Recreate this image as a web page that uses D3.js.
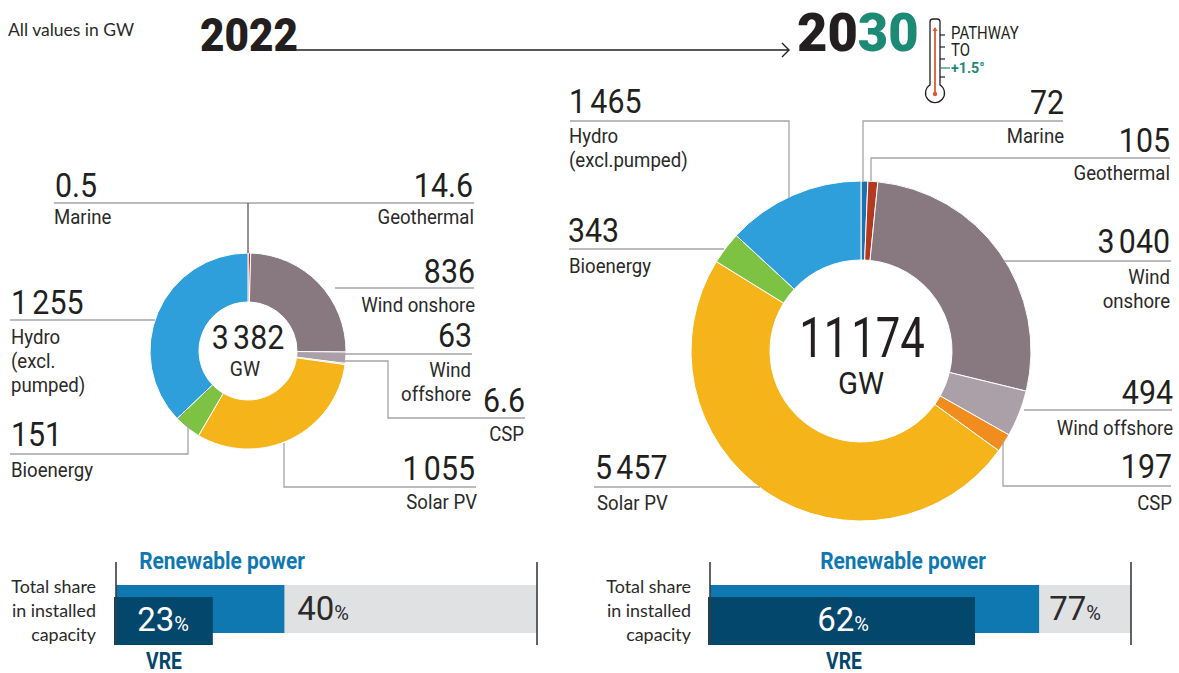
<!DOCTYPE html>
<html><head><meta charset="utf-8">
<script src="https://cdn.jsdelivr.net/npm/d3@7"></script>
<style>
html,body{margin:0;padding:0;background:#fff}
svg{display:block}
text{font-family:"Roboto",sans-serif;fill:#2b2a29}
</style></head><body>
<svg id="c" width="1179" height="673"></svg>
<script>
const categories=["Marine","Geothermal","Wind onshore","Wind offshore","CSP","Solar PV","Bioenergy","Hydro"];
const colours=["#1c6fb0","#b5391f","#87797f","#aca0a8","#f18c1f","#f4b41a","#7dc242","#2f9fdb"];
const values2022=[0.5,14.6,836,63,6.6,1055,151,1255];
const values2030=[72,105,3040,494,197,5457,343,1465];
const valueLabels2022=["0.5","14.6","836","63","6.6","1 055","151","1 255"];
const valueLabels2030=["72","105","3 040","494","197","5 457","343","1 465"];
const totals=["3 382","11 174"];
const renewableShares=[40,77];
const vreShares=[23,62];

const svg=d3.select("#c");
const LINE="#a3a5a7";
const defs=svg.append("defs");

function T(x,y,t,o={}){
  const s=o.sx||1;
  const e=svg.append("text").attr("transform",`translate(${x},${y}) scale(${s},1)`)
    .attr("text-anchor",o.a||"start").attr("font-size",o.size||20).attr("font-weight",o.w||400)
    .style("font-family",o.f||"Roboto").style("fill",o.c||"#2b2a29");
  if(o.ws!=null)e.style("word-spacing",o.ws+"px");
  if(t!=null)e.text(t);
  return e;
}
function donut(vals,cx,cy,R,r){
  const pie=d3.pie().sort(null).padAngle(0)(vals);
  const arc=d3.arc().innerRadius(r).outerRadius(R);
  const g=svg.append("g").attr("transform",`translate(${cx},${cy})`);
  g.selectAll("path").data(pie).join("path").attr("d",arc)
    .attr("fill",(d,i)=>colours[i]).attr("stroke","#fff").attr("stroke-width",(d,i)=>vals[i]<5?0:1);
  return pie;
}
donut(values2022,248,351,98,49);
donut(values2030,861,351,170,91);

function leader(points,c){
  svg.append("path").attr("d",d3.line()(points)).attr("fill","none").attr("stroke",c||LINE).attr("stroke-width",1.3);
}
const num=(x,y,t,a)=>T(x,y,t,{a,size:33,sx:.92,ws:-3.5,c:"#231f20"});
function lab(x,y,lines,a){
  lines.forEach((l,i)=>T(x,y+i*24,l,{a,size:20,sx:.93}));
}

/* 2022 leaders */
leader([[54,203],[474,203]]);
leader([[248,203],[248,253]],"#5a5a5c");
leader([[10,320],[155,320]]);
leader([[10,454],[188,454],[188,423]]);
leader([[284,443],[284,487],[476,487]]);
leader([[345,354],[472,354]]);
leader([[345,361],[388,361],[388,418],[525,418]]);
leader([[335,288],[474,288]]);
num(55,197,valueLabels2022[0]);lab(54,224,["Marine"]);
num(473,197,valueLabels2022[1],"end");lab(474,224,["Geothermal"],"end");
num(475,283,valueLabels2022[2],"end");lab(475,312,["Wind onshore"],"end");
num(472,347,valueLabels2022[3],"end");lab(471,377,["Wind","offshore"],"end");
num(525,412,valueLabels2022[4],"end");lab(524,441,["CSP"],"end");
num(475,480,valueLabels2022[5],"end");lab(477,509,["Solar PV"],"end");
num(11,446,valueLabels2022[6]);lab(11,477,["Bioenergy"]);
num(11,314,valueLabels2022[7]);lab(11,344,["Hydro","(excl.","pumped)"]);

/* 2030 leaders */
leader([[570,121],[789,121],[789,198]]);
leader([[569,249],[724,249]]);
leader([[594,487],[760,487]]);
leader([[863,181],[863,121],[1063,121]]);
leader([[871,181],[871,158],[1170,158]]);
leader([[1004,261],[1171,261]]);
leader([[1024,410],[1172,410]]);
leader([[1003,440],[1003,486],[1171,486]]);
num(569,113,valueLabels2030[7]);lab(569,143,["Hydro","(excl.pumped)"]);
num(568,242,valueLabels2030[6]);lab(569,273,["Bioenergy"]);
num(595,479,valueLabels2030[5]);lab(597,510,["Solar PV"]);
num(1064,114,valueLabels2030[0],"end");lab(1064,143,["Marine"],"end");
num(1170,152,valueLabels2030[1],"end");lab(1170,180,["Geothermal"],"end");
num(1170,253,valueLabels2030[2],"end");lab(1170,284,["Wind","onshore"],"end");
num(1173,404,valueLabels2030[3],"end");lab(1173,435,["Wind offshore"],"end");
num(1172,478,valueLabels2030[4],"end");lab(1172,510,["CSP"],"end");

/* centres */
T(248,349,totals[0],{a:"middle",size:33,sx:.92,ws:-3.5,c:"#231f20"});
T(245,376,"GW",{a:"middle",size:21,sx:.92});
T(862,357,totals[1],{a:"middle",size:56,sx:.78,ws:-10,c:"#231f20"});
T(861,394,"GW",{a:"middle",size:32,sx:.92,c:"#231f20"});

/* header */
T(8,36,"All values in GW",{size:17.5,f:"Lato"});
T(200,51,"2022",{size:46,w:900,sx:.92,c:"#231f20"});
defs.append("marker").attr("id","arr").attr("viewBox","0 0 10 16").attr("refX",9).attr("refY",8).attr("markerWidth",10).attr("markerHeight",16).attr("markerUnits","userSpaceOnUse").attr("orient","auto")
  .append("path").attr("d","M2 1L9 8L2 15").attr("fill","none").attr("stroke","#231f20").attr("stroke-width",1.4);
svg.append("line").attr("x1",296).attr("x2",789).attr("y1",50).attr("y2",50).attr("stroke","#231f20").attr("stroke-width",1.4).attr("marker-end","url(#arr)");
const y30=T(797,51,null,{size:53,w:900,sx:.99});
y30.append("tspan").style("fill","#231f20").text("20");
y30.append("tspan").style("fill","#1c8a75").text("30");

/* thermometer */
const th=svg.append("g").attr("transform","translate(935,0)");
th.append("path").attr("d","M-5 85 L-5 22 A3 3 0 0 1 -2 19 L2 19 A3 3 0 0 1 5 22 L5 85 A9.5 9.5 0 1 1 -5 85 Z").attr("fill","#fff").attr("stroke","#231f20").attr("stroke-width",1.3);
th.append("line").attr("y1",28).attr("y2",94).attr("stroke","#dc5b30").attr("stroke-width",1.8);
th.append("circle").attr("cy",94).attr("r",2.2).attr("fill","#dc5b30");
th.append("path").attr("d","M-2.5 31L0 27L2.5 31Z").attr("fill","#dc5b30");
[35,47,59,77].forEach(y=>th.append("line").attr("x1",5).attr("x2",10).attr("y1",y).attr("y2",y).attr("stroke","#231f20").attr("stroke-width",1.2));
th.append("line").attr("x1",5).attr("x2",15).attr("y1",68).attr("y2",68).attr("stroke","#1c8a75").attr("stroke-width",1.2);
T(951,39,"PATHWAY",{size:18,sx:.83,c:"#231f20"});
T(951,56,"TO",{size:18,sx:.83,c:"#231f20"});
T(951,73,"+1.5°",{size:15,w:700,sx:.95,c:"#1c8a75"});

/* share bars */
function share(x0,x1,max,ren,vre,labelX,vreLabelX,renTitleX,vreTextX,renTextX){
  const x=d3.scaleLinear().domain([0,max]).range([x0,x1]);
  svg.append("rect").attr("x",x0).attr("y",585).attr("width",x1-x0).attr("height",48).attr("fill","#e0e1e3");
  svg.append("rect").attr("x",x0).attr("y",585).attr("width",x(ren)-x0).attr("height",48).attr("fill","#1078b0");
  svg.append("rect").attr("x",x0-2).attr("y",597).attr("width",x(vre)-x0+2).attr("height",48).attr("fill","#04476c");
  [x0,x1].forEach(xx=>svg.append("line").attr("x1",xx).attr("x2",xx).attr("y1",562).attr("y2",645).attr("stroke","#3c3c3c").attr("stroke-width",1.6));
  ["Total share","in installed","capacity"].forEach((t,i)=>T(labelX,593+i*24,t,{a:"end",size:17.9,f:"Lato"}));
  T(renTitleX,569,"Renewable power",{a:"middle",size:24,w:700,sx:.87,c:"#1078b0"});
  T(vreLabelX,669,"VRE",{a:"middle",size:23,w:700,sx:.84,c:"#04476c"});
  const v=T(vreTextX,631,null,{a:"middle",c:"#fff"});
  v.append("tspan").attr("font-size",33).style("fill","#fff").text(vre);
  v.append("tspan").attr("font-size",20).style("fill","#fff").text("%");
  const r=T(renTextX,620,null,{a:"middle"});
  r.append("tspan").attr("font-size",33).text(ren);
  r.append("tspan").attr("font-size",20).text("%");
}
share(116,537,100,renewableShares[0],vreShares[0],96,164,222,163,323);
share(710,1131,98.5,renewableShares[1],vreShares[1],691,844,903,843,1075);
</script></body></html>
